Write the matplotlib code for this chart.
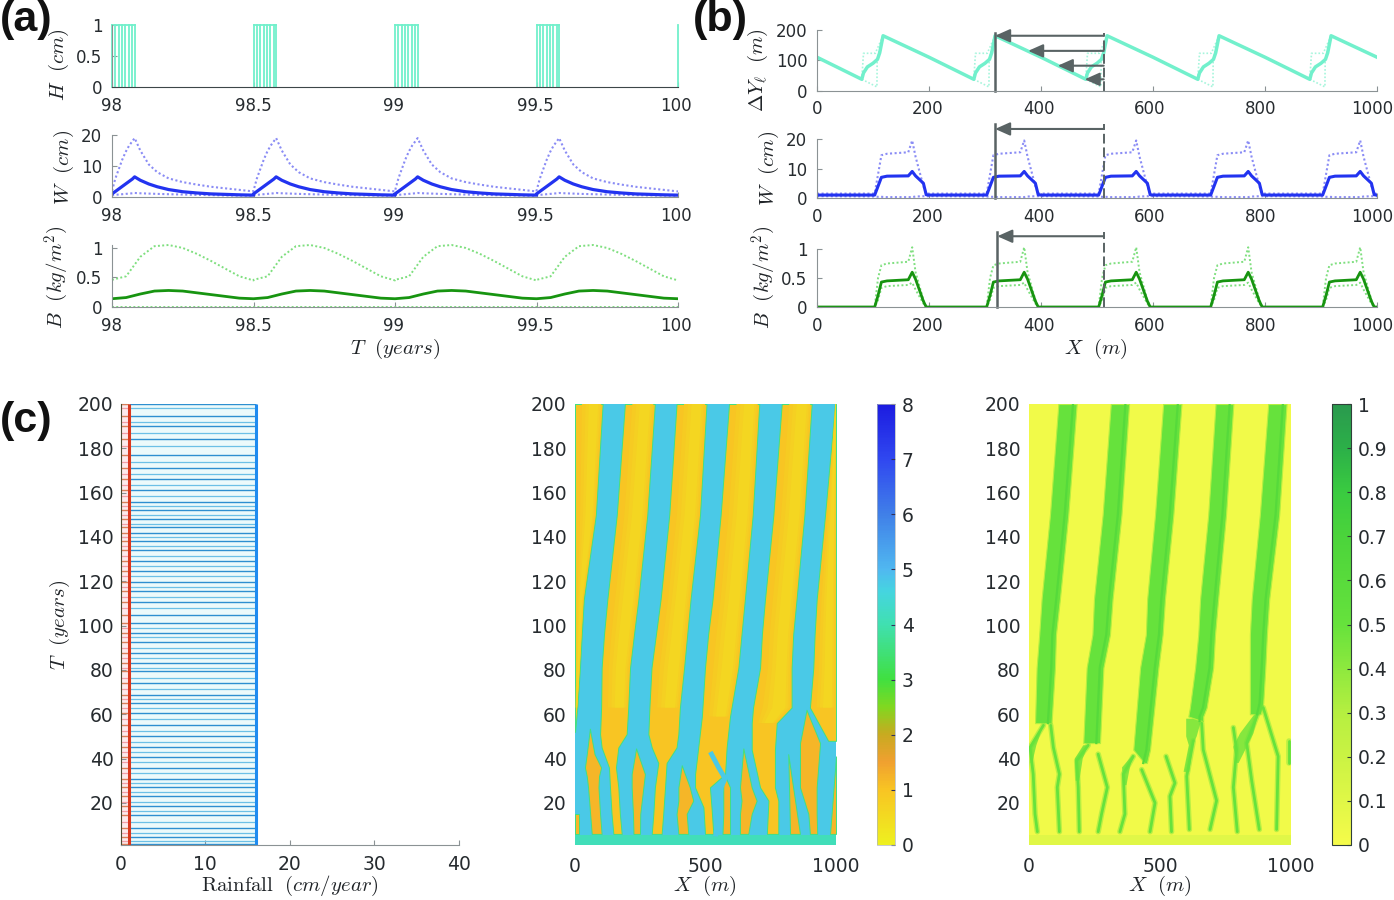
import numpy as np
import matplotlib
matplotlib.use('Agg')
import matplotlib.pyplot as plt
from matplotlib.cm import ScalarMappable
from matplotlib.colors import LinearSegmentedColormap, Normalize
from matplotlib.transforms import ScaledTranslation

plt.rcParams['font.family'] = 'DejaVu Sans'
plt.rcParams['mathtext.fontset'] = 'cm'

# panel (a), one rain season, repeated every half year
season_starts = [98, 98.5, 99, 99.5]
h_offsets = [0, .012, .024, .036, .047, .059, .071, .08]
t_w = [0, .012, .024, .036, .048, .06, .072, .08, .1, .13, .16, .2, .25, .3, .35, .4, .45, .5]
w_mean_a = [1, 1.8, 2.6, 3.4, 4.2, 5, 5.8, 6.5, 5.4, 4.2, 3.3, 2.4, 1.7, 1.3, 1, .85, .7, .6]
w_max_a = [2, 6, 9, 12, 14.5, 16.5, 18, 19, 15, 10.5, 8, 6, 4.8, 4, 3.3, 2.8, 2.3, 1.8]
w_min_a = [.6, .7, .8, .9, 1, 1.1, 1.2, 1.3, 1.2, 1.1, 1, .9, .8, .7, .6, .5, .45, .4]
t_b = [0, .05, .1, .15, .2, .25, .3, .35, .4, .45, .5]
b_mean_a = [.14, .16, .22, .27, .28, .27, .24, .21, .18, .15, .14]
b_max_a = [.46, .52, .85, 1.03, 1.05, 1.0, .9, .78, .65, .52, .45]
b_min_a = [.005, .005, .005, .005, .005, .005, .005, .005, .005, .005, .005]

# panel (b), one vegetation band, repeated every 200 m
band_starts = [0, 200, 400, 600, 800]
x_dy = [0, 80, 83, 90, 100, 108, 112, 118, 200]
dy_mean = [110, 37, 58, 78, 90, 103, 125, 181, 110]
x_dy_hi = [80, 83, 104, 118]
dy_hi = [37, 123, 123, 181]
x_dy_lo = [80, 107, 107.5, 118]
dy_lo = [37, 12, 105, 181]
x_w = [0, 103, 109, 115, 125, 163, 170, 176, 190, 195, 200]
w_mean_b = [1, 1, 4, 7, 7.4, 7.5, 9, 7.5, 5, 1.1, 1]
w_max_b = [1.5, 1.5, 8, 14.5, 15, 15.5, 19.5, 14, 4, 1.5, 1.5]
w_min_b = [.6, .5, .4, .4, .3, .3, .3, .5, .6, .6, .6]
x_bio = [0, 103, 109, 115, 125, 163, 170, 176, 190, 195, 200]
b_mean_b = [0, 0, .2, .43, .45, .47, .6, .48, .1, 0, 0]
b_max_b = [0, 0, .5, .72, .75, .78, 1.03, .6, .12, 0, 0]
b_min_b = [0, 0, .12, .33, .36, .38, .42, .3, .06, 0, 0]

# panel (c) left, years with rain
rain_strong = [200, 194.7, 190, 184, 177, 171, 166, 161, 156, 152, 148, 144.7, 142, 138, 134, 129,
               124.8, 119.9, 115.4, 110.6, 104.8, 101, 96.6, 92.8, 87.6, 83, 79.3, 74, 68.8, 65,
               60.5, 55, 50, 45.4, 40.9, 35.8, 31, 27.2, 22.9, 18.4, 14.6, 8.7, 4.6, 1.5]
rain_mild = [198, 192, 187, 181, 174, 168.5, 163.5, 158.5, 154, 150, 146, 140, 136, 131.5, 127,
             122.5, 117.5, 113, 108, 99, 94.7, 90, 85.5, 81, 76.5, 71.5, 67, 63, 58, 52.5,
             47.7, 43, 38.4, 33.5, 29, 25, 20.6, 16.5, 11.5, 6.6, 3]
rain_low = 1
rain_high = 16

# panel (c) middle, dry gaps between the water bands: T, left edge, right edge
gap_0 = ([200, 150, 112, 96, 81, 63, 52], [0, 0, 0, 0, 0, 0, 0], [106, 80, 34, 26, 19, 9, 0])
gap_0b = ([15, 6], [0, 0], [17, 17])
flame_1 = ([53.5, 42, 36, 32, 27, 15, 6], [57, 45, 38, 45, 50, 58, 64], [57, 75, 100, 92, 90, 96, 102])
gap_1 = ([200, 150, 112, 96, 81, 63, 51, 45, 36, 27, 15, 6],
         [191, 160, 124, 111, 102, 100, 96, 102, 130, 134, 140, 147],
         [306, 277, 243, 226, 211, 204, 198, 166, 157, 166, 172, 179])
flame_2 = ([44.6, 33, 27, 15, 6], [234, 217, 217, 222, 224], [234, 268, 262, 250, 249])
gap_2 = ([200, 150, 112, 96, 81, 63, 51, 45, 38, 27, 15, 6],
         [389, 361, 328, 310, 293, 285, 281, 294, 319, 306, 300, 294],
         [504, 479, 443, 430, 418, 402, 396, 389, 351, 345, 338, 332])
flame_3 = ([37, 27, 21, 15, 6], [409, 396, 396, 389, 396], [409, 440, 453, 428, 434])
gap_3 = ([200, 150, 112, 96, 81, 59, 45, 33, 27, 18, 6],
         [590, 558, 527, 510, 498, 486, 472, 460, 460, 492, 498],
         [706, 681, 651, 638, 626, 594, 581, 575, 517, 523, 530])
gap_3b = ([32, 27, 15, 6], [568, 568, 568, 565], [575, 594, 594, 594])
flame_4 = ([44.6, 27, 21, 15, 6], [645, 632, 638, 632, 632], [645, 677, 696, 677, 664])
gap_4 = ([200, 150, 112, 96, 81, 63, 56, 44, 27, 21, 6],
         [792, 760, 728, 716, 709, 682, 677, 677, 709, 741, 735],
         [907, 879, 849, 836, 830, 830, 773, 766, 766, 779, 779])
flame_5 = ([62, 47, 27, 15, 6], [887, 862, 862, 894, 900], [887, 939, 926, 926, 928])
strip_5 = ([42, 6], [817, 824], [817, 862])
gap_5 = ([200, 150, 112, 96, 81, 63, 48], [996, 958, 926, 918, 913, 900, 970], [1000, 1000, 1000, 1000, 1000, 1000, 1000])
gap_5b = ([41, 6], [1000, 977], [1000, 1000])
water_branch = ([523, 550, 575, 560, 540], [42, 36, 31, 27, 6])

# panel (c) right, biomass bands and the thin branches below them
bio_band_1 = ([200, 150, 112, 96, 81, 56], [112, 80, 48, 39, 29, 23], [182, 150, 118, 103, 99, 86])
bio_band_2 = ([200, 150, 112, 96, 81, 47], [312, 281, 248, 242, 220, 207], [382, 353, 319, 309, 284, 271])
bio_band_3 = ([200, 150, 112, 96, 81, 44, 38], [512, 481, 451, 446, 424, 398, 440], [582, 551, 519, 510, 494, 462, 450])
bio_band_4 = ([200, 150, 112, 96, 81, 63, 59, 57], [712, 684, 653, 646, 634, 614, 608, 659], [780, 752, 722, 710, 703, 678, 665, 665])
bio_band_5 = ([200, 150, 112, 96, 81, 65, 60], [913, 881, 850, 843, 843, 843, 843], [983, 955, 917, 908, 902, 894, 884])
bio_wedge_1 = ([55, 46, 38], [55, 4, 6], [55, 28, 12])
bio_wedge_2 = ([46, 40, 30], [207, 175, 178], [226, 205, 192])
bio_wedge_3 = ([42, 36, 28], [398, 355, 360], [398, 385, 372])
bio_wedge_4 = ([58, 50, 46, 34], [600, 600, 610, 590], [659, 640, 625, 612])
bio_wedge_5 = ([63.4, 51.3, 45.3, 38], [882, 805, 780, 792], [882, 856, 831, 800])
branch_1 = ([55, 4, 16, 23, 32], [55, 45, 33, 15, 7])
branch_2 = ([83, 93, 116, 108, 116], [55, 45, 33, 27, 7])
branch_3 = ([226, 182, 188, 192], [46, 39, 27, 7])
branch_4 = ([264, 299, 277, 264], [42, 27, 15, 7])
branch_5 = ([398, 360, 366, 347], [41, 33, 15, 7])
branch_6 = ([430, 481, 462], [35, 20, 7])
branch_7 = ([523, 557, 538, 544], [41, 29, 23, 7])
branch_8 = ([627, 602, 612], [48, 32, 8])
branch_9 = ([659, 665, 716, 691], [56, 44, 21, 8])
branch_10 = ([780, 792, 780, 795], [54, 44, 27, 7])
branch_11 = ([882, 831, 850, 879], [63, 47, 30, 8])
branch_12 = ([894, 951, 945], [63, 41, 8])
branch_13 = ([993, 993], [48, 38])

# colour bars
water_ticks = [0, 1, 2, 3, 4, 5, 6, 7, 8]
water_colors = ['#eef01f', '#f8c423', '#f0a030', '#c8aa20', '#80d820', '#40e040', '#40e0b0', '#45d5e0', '#50b8f0', '#4080e8', '#3048f0', '#1c1ce0']
water_stops = [0, 1 / 8, 1.5 / 8, 2 / 8, 2.5 / 8, 3 / 8, 4 / 8, 4.6 / 8, 5 / 8, 6 / 8, 7 / 8, 1]
bio_ticks = [0, .1, .2, .3, .4, .5, .6, .7, .8, .9, 1]
bio_labels = ['0', '0.1', '0.2', '0.3', '0.4', '0.5', '0.6', '0.7', '0.8', '0.9', '1']
bio_colors = ['#f5fb4a', '#b5ef40', '#66e23c', '#4bd43b', '#3acb40', '#2cb048', '#2a9a4e']
bio_stops = [0, .3, .5, .7, .8, .9, 1]

W_PX, H_PX = 1394, 900
TEAL, TEAL_DOT = '#72f0cc', '#a6f5dc'
BLUE, BLUE_DOT = '#2233f0', '#8a8cf5'
GREEN, GREEN_DOT = '#179410', '#7fdf7f'
AXIS_GRAY = '#8b9294'
ARROW_GRAY = '#596364'
TICK_TEXT = '#262b2f'

fig = plt.figure(figsize=(W_PX / 100, H_PX / 100), dpi=100)


def px_axes(left, top, right, bottom):
    return fig.add_axes([left / W_PX, 1 - bottom / H_PX, (right - left) / W_PX, (bottom - top) / H_PX])


def style_axes(ax, size=12, xpad=7, ypad=7):
    ax.spines['top'].set_visible(False)
    ax.spines['right'].set_visible(False)
    ax.spines['left'].set_color(AXIS_GRAY)
    ax.spines['bottom'].set_color(AXIS_GRAY)
    ax.tick_params(direction='in', length=3.5, width=0.8, color=AXIS_GRAY, labelsize=size,
                   labelcolor=TICK_TEXT)
    ax.tick_params(axis='x', pad=xpad)
    ax.tick_params(axis='y', pad=ypad)


def nudge_xlabels(ax, px_at_end):
    # labels drift left of their ticks in the original, most at the right end
    x0, x1 = ax.get_xlim()
    for lab, v in zip(ax.get_xticklabels(), ax.get_xticks()):
        shift = -px_at_end * (v - x0) / (x1 - x0) / fig.dpi
        lab.set_transform(lab.get_transform() + ScaledTranslation(shift, 0, fig.dpi_scale_trans))


def ylabel_px(text, x_px, y_px, size=15):
    fig.text(x_px / W_PX, 1 - y_px / H_PX, text, rotation=90, ha='center', va='center',
             fontsize=size, color='#202428')


def xlabel_px(text, x_px, y_px, size=15):
    fig.text(x_px / W_PX, 1 - y_px / H_PX, text, ha='center', va='center', fontsize=size, color='#202428')


def tile(starts, offsets, values):
    xs = np.concatenate([s + np.array(offsets) for s in starts])
    ys = np.concatenate([values for s in starts])
    return xs, ys


def shift_arrow(ax, tip, tail, level):
    ax.annotate('', xy=(tip, level), xytext=(tail, level), annotation_clip=False,
                arrowprops=dict(arrowstyle='-|>,head_length=0.9,head_width=0.4', color=ARROW_GRAY,
                                lw=1.5, shrinkA=0, shrinkB=0))


# ---- panel (a)
ax = px_axes(112, 25, 678, 87)
style_axes(ax)
for s in season_starts:
    for off in h_offsets:
        ax.plot([s + off, s + off], [0, 1], color=TEAL, lw=1.3, clip_on=False)
    ax.plot([s, s + h_offsets[-1]], [1, 1], color=TEAL, lw=1.3, clip_on=False)
ax.plot([100, 100], [0, 1], color=TEAL, lw=1.3, clip_on=False)
ax.spines['bottom'].set_color('#3c4648')
ax.set_xlim(98, 100)
ax.set_ylim(0, 1)
ax.set_xticks([98, 98.5, 99, 99.5, 100], ['98', '98.5', '99', '99.5', '100'])
ax.set_yticks([0, .5, 1], ['0', '0.5', '1'])
nudge_xlabels(ax, 2)

ax = px_axes(112, 135, 678, 197)
style_axes(ax)
for vals in (w_max_a, w_min_a):
    xs, ys = tile(season_starts, t_w, vals)
    ax.plot(xs, ys, color=BLUE_DOT, lw=1.5, ls=(0, (1, 1.2)))
xs, ys = tile(season_starts, t_w, w_mean_a)
ax.plot(xs, ys, color=BLUE, lw=2.3)
ax.set_xlim(98, 100)
ax.set_ylim(0, 20)
ax.set_xticks([98, 98.5, 99, 99.5, 100], ['98', '98.5', '99', '99.5', '100'])
ax.set_yticks([0, 10, 20])
nudge_xlabels(ax, 2)

ax = px_axes(112, 245, 678, 307)
style_axes(ax)
for vals in (b_max_a, b_min_a):
    xs, ys = tile(season_starts, t_b, vals)
    ax.plot(xs, ys, color=GREEN_DOT, lw=1.4, ls=(0, (1, 1.2)), clip_on=False)
xs, ys = tile(season_starts, t_b, b_mean_a)
ax.plot(xs, ys, color=GREEN, lw=2)
ax.set_xlim(98, 100)
ax.set_ylim(0, 1.05)
ax.set_xticks([98, 98.5, 99, 99.5, 100], ['98', '98.5', '99', '99.5', '100'])
ax.set_yticks([0, .5, 1], ['0', '0.5', '1'])
nudge_xlabels(ax, 2)

ylabel_px(r'$H\ \ (cm)$', 59, 65)
ylabel_px(r'$W\ \ (cm)$', 64, 167)
ylabel_px(r'$B\ \ (kg/m^2)$', 57, 277)
xlabel_px(r'$T\ \ (years)$', 395, 349)

# ---- panel (b)
ax = px_axes(817, 30, 1377, 90.5)
style_axes(ax)
for s in band_starts:
    ax.plot(s + np.array(x_dy_hi), dy_hi, color=TEAL_DOT, lw=1.2, ls=(0, (1, 1.2)), clip_on=False)
    ax.plot(s + np.array(x_dy_lo), dy_lo, color=TEAL_DOT, lw=1.2, ls=(0, (1, 1.2)), clip_on=False)
xs, ys = tile(band_starts, x_dy, dy_mean)
ax.plot(xs, ys, color=TEAL, lw=2.5)
ax.set_xlim(0, 1000)
ax.set_ylim(0, 200)
ax.set_xticks([0, 200, 400, 600, 800, 1000])
ax.set_yticks([0, 100, 200])
nudge_xlabels(ax, 5)
ax.plot([318, 318], [0, 190], color=ARROW_GRAY, lw=1.8, clip_on=False)
ax.plot([512, 512], [0, 190], color=ARROW_GRAY, lw=1.4, ls=(0, (5, 2)), clip_on=False)
for tip, level in zip([318, 377, 430, 478], [181, 131, 82, 37]):
    shift_arrow(ax, tip, 512, level)

ax = px_axes(817, 139, 1377, 198)
style_axes(ax)
for vals in (w_max_b, w_min_b):
    xs, ys = tile(band_starts, x_w, vals)
    ax.plot(xs, ys, color=BLUE_DOT, lw=1.5, ls=(0, (1, 1.2)))
xs, ys = tile(band_starts, x_w, w_mean_b)
ax.plot(xs, ys, color=BLUE, lw=2.2)
ax.set_xlim(0, 1000)
ax.set_ylim(0, 20)
ax.set_xticks([0, 200, 400, 600, 800, 1000])
ax.set_yticks([0, 10, 20])
nudge_xlabels(ax, 5)
ax.plot([318, 318], [0, 25], color=ARROW_GRAY, lw=1.8, clip_on=False)
ax.plot([512, 512], [0, 25], color=ARROW_GRAY, lw=1.4, ls=(0, (5, 2)), clip_on=False)
shift_arrow(ax, 318, 512, 23.4)

ax = px_axes(817, 249, 1377, 307)
style_axes(ax)
for vals in (b_max_b, b_min_b):
    xs, ys = tile(band_starts, x_bio, vals)
    ax.plot(xs, ys, color=GREEN_DOT, lw=1.4, ls=(0, (1, 1.2)), clip_on=False)
xs, ys = tile(band_starts, x_bio, b_mean_b)
ax.plot(xs, ys, color=GREEN, lw=2)
ax.set_xlim(0, 1000)
ax.set_ylim(0, 1)
ax.set_xticks([0, 200, 400, 600, 800, 1000])
ax.set_yticks([0, .5, 1], ['0', '0.5', '1'])
nudge_xlabels(ax, 5)
ax.plot([322, 322], [0, 1.3], color=ARROW_GRAY, lw=1.8, clip_on=False)
ax.plot([512, 512], [0, 1.3], color=ARROW_GRAY, lw=1.4, ls=(0, (5, 2)), clip_on=False)
shift_arrow(ax, 322, 512, 1.22)

ylabel_px(r'$\Delta Y_\ell\ \ (m)$', 758, 70)
ylabel_px(r'$W\ \ (cm)$', 769, 168)
ylabel_px(r'$B\ \ (kg/m^2)$', 764, 277)
xlabel_px(r'$X\ \ (m)$', 1096, 349)

# ---- panel (c) rainfall
ax = px_axes(120.5, 404, 459, 845)
style_axes(ax, size=13.5, xpad=7, ypad=5)
ax.spines['left'].set_color('#4a4a30')
ax.axvspan(rain_low, rain_high, color='#ecfafb', lw=0)
ax.axvspan(0, rain_low, color='#fdeaec', lw=0)
ax.hlines(rain_mild, rain_low, rain_high, color='#6cc0e6', lw=0.9)
ax.hlines(rain_strong, rain_low, rain_high, color='#2e8fd0', lw=1.0)
ax.hlines(rain_mild, 0, rain_low, color='#f2a0a8', lw=0.9)
ax.hlines(rain_strong, 0, rain_low, color='#d9805a', lw=1.0)
ax.plot([rain_low, rain_low], [1, 200], color='#d9381e', lw=2.2, solid_capstyle='butt')
ax.plot([rain_high, rain_high], [1, 200], color='#1f8bf0', lw=2.2, solid_capstyle='butt')
ax.set_xlim(0, 40)
ax.set_ylim(1, 200)
ax.set_xticks([0, 10, 20, 30, 40])
ax.set_yticks(range(20, 201, 20))
ylabel_px(r'$T\ \ (years)$', 60, 625)
xlabel_px(r'$\mathrm{Rainfall}\ \ (cm/year)$', 290, 886)

# ---- panel (c) water map
water_cmap = LinearSegmentedColormap.from_list('water', list(zip(water_stops, water_colors)))
water_norm = Normalize(0, 8)
ax = px_axes(575, 404, 836, 845)
style_axes(ax, size=13.5, xpad=9, ypad=6)
for side in ['left', 'bottom']:
    ax.spines[side].set_visible(False)
ax.set_facecolor(water_cmap(water_norm(4.75)))
edge = water_cmap(water_norm(3.6))
for gap in [gap_0, gap_0b, gap_1, gap_2, gap_3, gap_3b, gap_4, gap_5, gap_5b, flame_1, flame_2, flame_3, flame_4, flame_5, strip_5]:
    is_flame = gap[0][0] < 100
    level = 1.2 if is_flame else 0.98
    ax.fill_betweenx(gap[0], gap[1], gap[2], facecolor=water_cmap(water_norm(level)), edgecolor=edge, lw=0.7)
    if not is_flame:
        # the upper part of each gap turns yellow towards its right side
        t, left, right = (np.array(a, dtype=float) for a in gap)
        keep = t >= 55
        for f0, f1, inner in [(.25, .95, .86), (.38, .9, .74), (.5, .84, .62)]:
            ax.fill_betweenx(t[keep], (left + (right - left) * f0)[keep], (left + (right - left) * f1)[keep],
                             facecolor=water_cmap(water_norm(inner)), edgecolor='none')
ax.plot(water_branch[0], water_branch[1], color=water_cmap(water_norm(4.75)), lw=3.5)
ax.axhspan(1, 5.5, color=water_cmap(water_norm(4.1)), lw=0)
ax.set_xlim(0, 1000)
ax.set_ylim(1, 200)
ax.set_xticks([0, 500, 1000])
ax.set_yticks(range(20, 201, 20))
ax.tick_params(length=0)
xlabel_px(r'$X\ \ (m)$', 705, 886)

cax = px_axes(877, 404, 895, 845)
cb = fig.colorbar(ScalarMappable(norm=water_norm, cmap=water_cmap), cax=cax)
cb.set_ticks(water_ticks)
cb.outline.set_linewidth(0.5)
cb.outline.set_edgecolor('#b0b8ba')
cax.tick_params(direction='in', length=3, width=0.8, color='#30305a', labelsize=13.5, labelcolor=TICK_TEXT, pad=5)

# ---- panel (c) biomass map
bio_cmap = LinearSegmentedColormap.from_list('bio', list(zip(bio_stops, bio_colors)))
bio_norm = Normalize(0, 1)
ax = px_axes(1029, 404, 1291, 845)
style_axes(ax, size=13.5, xpad=9, ypad=6)
for side in ['left', 'bottom']:
    ax.spines[side].set_visible(False)
ax.set_facecolor(bio_cmap(bio_norm(0.02)))
branch_color = bio_cmap(bio_norm(0.5))
for branch in [branch_1, branch_2, branch_3, branch_4, branch_5, branch_6, branch_7, branch_8,
               branch_9, branch_10, branch_11, branch_12, branch_13]:
    ax.plot(branch[0], branch[1], color=branch_color, alpha=.4, lw=4, solid_capstyle='round')
    ax.plot(branch[0], branch[1], color=branch_color, lw=2, solid_capstyle='round')
for wedge in [bio_wedge_1, bio_wedge_2, bio_wedge_3, bio_wedge_4, bio_wedge_5]:
    ax.fill_betweenx(wedge[0], wedge[1], wedge[2], facecolor=bio_cmap(bio_norm(0.42)), edgecolor='none')
for band in [bio_band_1, bio_band_2, bio_band_3, bio_band_4, bio_band_5]:
    ax.fill_betweenx(band[0], band[1], band[2], facecolor=bio_cmap(bio_norm(0.5)),
                     edgecolor=bio_cmap(bio_norm(0.3)), lw=0.8)
    ax.plot(np.array(band[2]) - 14, band[0], color=bio_cmap(bio_norm(0.62)), lw=1.6)
ax.axhspan(1, 5.5, color=bio_cmap(bio_norm(0.1)), lw=0)
ax.set_xlim(0, 1000)
ax.set_ylim(1, 200)
ax.set_xticks([0, 500, 1000])
ax.set_yticks(range(20, 201, 20))
ax.tick_params(length=0)
xlabel_px(r'$X\ \ (m)$', 1160, 886)

cax = px_axes(1332, 404, 1351, 845)
cb = fig.colorbar(ScalarMappable(norm=bio_norm, cmap=bio_cmap), cax=cax)
cb.set_ticks(bio_ticks, labels=bio_labels)
cb.outline.set_linewidth(0.8)
cb.outline.set_edgecolor('#30403a')
cax.tick_params(direction='in', length=3, width=0.8, color='#30403a', labelsize=13.5, labelcolor=TICK_TEXT, pad=5)

# panel letters
for letter, x_px, y_px in [('(a)', 0, 31), ('(b)', 693, 31), ('(c)', 0, 432)]:
    fig.text(x_px / W_PX, 1 - y_px / H_PX, letter, family='Liberation Sans', weight='bold',
             fontsize=31, color='#111111', va='baseline', ha='left')

fig.savefig('out.png', dpi=100)
